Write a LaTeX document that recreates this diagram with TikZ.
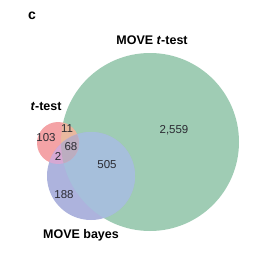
\documentclass[tikz,border=0pt]{standalone}
\usepackage{fontspec}
\setmainfont{Liberation Sans}
\definecolor{cG}{HTML}{9FCCB4}
\definecolor{cR}{HTML}{F4A3A6}
\definecolor{cB}{HTML}{ADB3DD}
\definecolor{cRG}{HTML}{E9B89E}
\definecolor{cBG}{HTML}{A6BFDB}
\definecolor{cRB}{HTML}{D6A8D3}
\definecolor{cRGB}{HTML}{BCADC0}
\definecolor{txt}{HTML}{2B2B33}
\begin{document}
\begin{tikzpicture}[x=1pt,y=-1pt,
  num/.style={font=\fontsize{11.5}{12}\selectfont, text=txt, inner sep=0pt},
  lab/.style={font=\fontsize{12.5}{13}\selectfont\bfseries, text=black, inner sep=0pt}]
\useasboundingbox (0,0) rectangle (253,257);
\def\Gc{(150,142) circle[radius=89]}
\def\Rc{(58,143) circle[radius=21]}
\def\Bc{(91,176) circle[radius=44]}
\fill[cG] \Gc;
\fill[cR] \Rc;
\fill[cB] \Bc;
\begin{scope}\clip \Gc; \fill[cRG] \Rc; \fill[cBG] \Bc; \end{scope}
\begin{scope}\clip \Rc; \fill[cRB] \Bc; \end{scope}
\begin{scope}\clip \Gc; \clip \Rc; \fill[cRGB] \Bc; \end{scope}
\node[lab, font=\fontsize{14}{15}\selectfont\bfseries] (c) at (32,16) {c};
\node[lab] (lG) at (152,40) {MOVE \textit{t}-test};
\node[lab] (lR) at (46,106) {\textit{t}-test};
\node[lab] (lB) at (81,235) {MOVE bayes};
\node[num] (n2559) at (174,130) {2,559};
\node[num] (n103) at (46,138) {103};
\node[num] (n11) at (67,129) {11};
\node[num] (n68) at (71,147) {68};
\node[num] (n2) at (58,156) {2};
\node[num] (n505) at (107,165) {505};
\node[num] (n188) at (64,195) {188};
\end{tikzpicture}
\end{document}
